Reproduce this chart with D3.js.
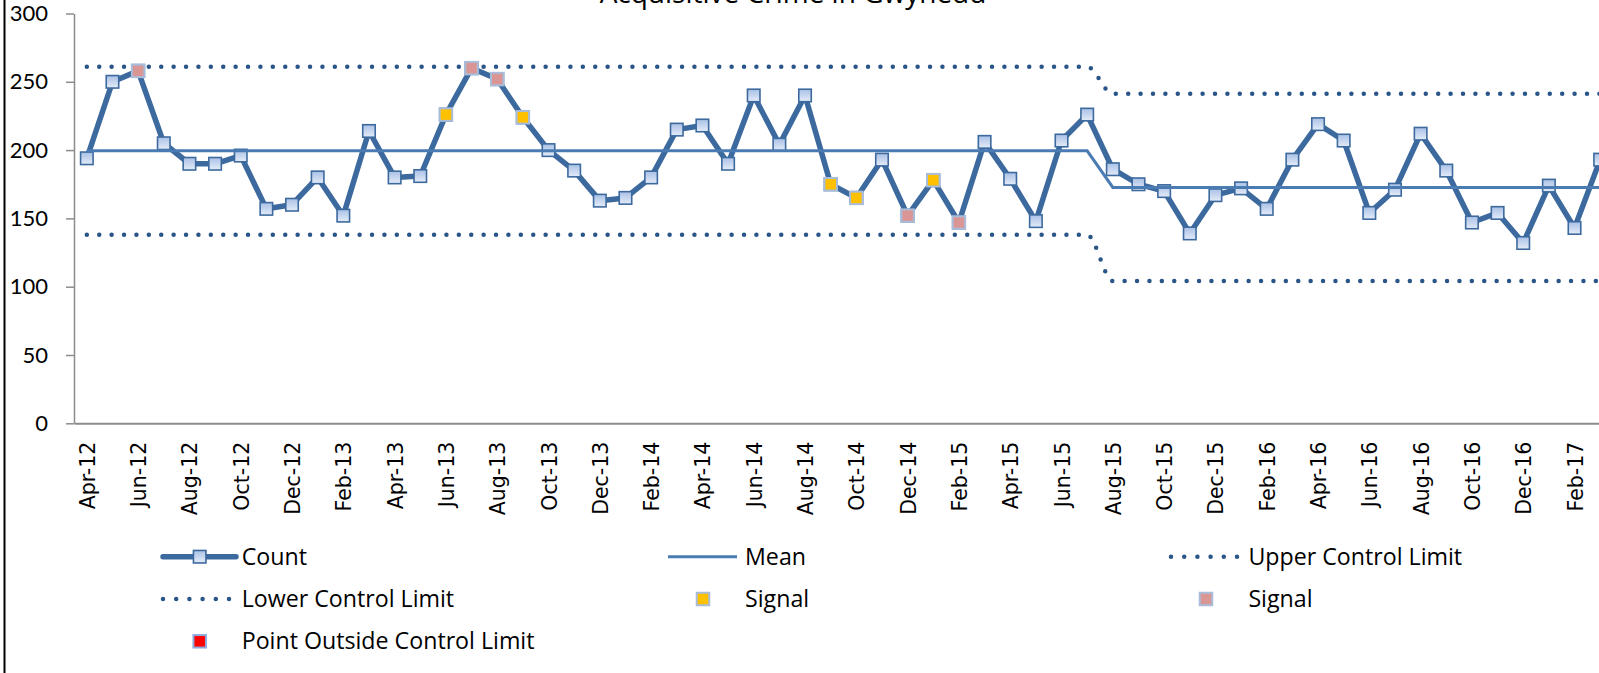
<!DOCTYPE html>
<html>
<head>
<meta charset="utf-8">
<script src="https://cdn.jsdelivr.net/npm/d3@7/dist/d3.min.js"></script>
<style>
  html, body { margin: 0; padding: 0; background: #ffffff; }
  svg { display: block; }
</style>
</head>
<body>
<script>
// ---------------- DATA ----------------
const months = [
  "Apr-12","May-12","Jun-12","Jul-12","Aug-12","Sep-12","Oct-12","Nov-12","Dec-12","Jan-13","Feb-13","Mar-13",
  "Apr-13","May-13","Jun-13","Jul-13","Aug-13","Sep-13","Oct-13","Nov-13","Dec-13","Jan-14","Feb-14","Mar-14",
  "Apr-14","May-14","Jun-14","Jul-14","Aug-14","Sep-14","Oct-14","Nov-14","Dec-14","Jan-15","Feb-15","Mar-15",
  "Apr-15","May-15","Jun-15","Jul-15","Aug-15","Sep-15","Oct-15","Nov-15","Dec-15","Jan-16","Feb-16","Mar-16",
  "Apr-16","May-16","Jun-16","Jul-16","Aug-16","Sep-16","Oct-16","Nov-16","Dec-16","Jan-17","Feb-17","Mar-17"
];

const counts = [
  194,250,258,205,190,190,196,157,160,180,152,214,
  180,181,226,260,252,224,200,185,163,165,180,215,
  218,190,240,204,240,175,165,193,152,178,147,206,
  179,148,207,226,186,175,170,139,167,172,157,193,
  219,207,154,171,212,185,147,154,132,174,143,193
];

const meanValues = [
  199.5,199.5,199.5,199.5,199.5,199.5,199.5,199.5,199.5,199.5,199.5,199.5,
  199.5,199.5,199.5,199.5,199.5,199.5,199.5,199.5,199.5,199.5,199.5,199.5,
  199.5,199.5,199.5,199.5,199.5,199.5,199.5,199.5,199.5,199.5,199.5,199.5,
  199.5,199.5,199.5,199.5,172.7,172.7,172.7,172.7,172.7,172.7,172.7,172.7,
  172.7,172.7,172.7,172.7,172.7,172.7,172.7,172.7,172.7,172.7,172.7,172.7
];

const uclValues = [
  261,261,261,261,261,261,261,261,261,261,261,261,
  261,261,261,261,261,261,261,261,261,261,261,261,
  261,261,261,261,261,261,261,261,261,261,261,261,
  261,261,261,261,241.2,241.2,241.2,241.2,241.2,241.2,241.2,241.2,
  241.2,241.2,241.2,241.2,241.2,241.2,241.2,241.2,241.2,241.2,241.2,241.2
];

const lclValues = [
  138,138,138,138,138,138,138,138,138,138,138,138,
  138,138,138,138,138,138,138,138,138,138,138,138,
  138,138,138,138,138,138,138,138,138,138,138,138,
  138,138,138,138,104.2,104.2,104.2,104.2,104.2,104.2,104.2,104.2,
  104.2,104.2,104.2,104.2,104.2,104.2,104.2,104.2,104.2,104.2,104.2,104.2
];

// Signal points (months flagged)
const signalYellowMonths = ["Jun-13","Sep-13","Sep-14","Oct-14","Jan-15"];
const signalPinkMonths   = ["Jun-12","Jul-13","Aug-13","Dec-14","Feb-15"];

const yTicks = [0, 50, 100, 150, 200, 250, 300];
const xTickLabels = [
  "Apr-12","Jun-12","Aug-12","Oct-12","Dec-12","Feb-13","Apr-13","Jun-13","Aug-13","Oct-13",
  "Dec-13","Feb-14","Apr-14","Jun-14","Aug-14","Oct-14","Dec-14","Feb-15","Apr-15","Jun-15",
  "Aug-15","Oct-15","Dec-15","Feb-16","Apr-16","Jun-16","Aug-16","Oct-16","Dec-16","Feb-17"
];

const title = "Acquisitive Crime in Gwynedd";
const legendItems = [
  {label: "Count", kind: "count"},
  {label: "Mean", kind: "mean"},
  {label: "Upper Control Limit", kind: "dots"},
  {label: "Lower Control Limit", kind: "dots"},
  {label: "Signal", kind: "yellow"},
  {label: "Signal", kind: "pink"},
  {label: "Point Outside Control Limit", kind: "red"}
];

// ---------------- STYLE ----------------
const W = 1599, H = 673;
const C_LINE = "#3D6A9E";
const C_MEAN = "#4A7BB3";
const C_DOT = "#2A5588";
const C_AXIS = "#8C8C8C";
const C_YELLOW = "#FFC000";
const C_PINK = "#D99694";
const C_RED = "#FF0000";
const C_SIG_BORDER = "#A9BDDA";
const tickFont = "Lato, 'Open Sans', sans-serif";
const labelFont = "'Open Sans', Lato, sans-serif";
const axisFont = "'DejaVu Sans', Verdana, sans-serif";

const svg = d3.select("body").append("svg")
  .attr("width", W).attr("height", H)
  .attr("viewBox", `0 0 ${W} ${H}`);

const defs = svg.append("defs");
const grad = defs.append("linearGradient")
  .attr("id", "mgrad").attr("x1", 0).attr("y1", 0).attr("x2", 0).attr("y2", 1);
grad.append("stop").attr("offset", "0%").attr("stop-color", "#A9C0E6");
grad.append("stop").attr("offset", "100%").attr("stop-color", "#E4ECF8");

// scales
const plotLeft = 74, catW = 25.65;
const x = d3.scaleBand().domain(months)
  .range([plotLeft, plotLeft + catW * months.length]).padding(0);
const cx = m => x(m) + x.bandwidth() / 2;
const y = d3.scaleLinear().domain([0, 300]).range([423.3, 13.5]);

// frame on left
svg.append("line").attr("x1", 4.5).attr("x2", 4.5).attr("y1", 0).attr("y2", H)
  .attr("stroke", "#000").attr("stroke-width", 2);

// title (cropped at the top edge, as in the reference)
svg.append("text").attr("x", 793).attr("y", 3)
  .attr("text-anchor", "middle")
  .style("font-family", labelFont).style("font-size", "28px").attr("fill", "#000")
  .text(title);

// y axis
const yAxis = svg.append("g").attr("transform", `translate(${plotLeft},0)`)
  .call(d3.axisLeft(y).tickValues(yTicks).tickSize(8).tickSizeOuter(0).tickPadding(18));
yAxis.select(".domain").attr("stroke", C_AXIS).attr("stroke-width", 1.5);
yAxis.selectAll(".tick line").attr("stroke", C_AXIS).attr("stroke-width", 1.5);
yAxis.selectAll(".tick text").style("font-family", tickFont).style("font-size", "22px").attr("fill", "#000");

// x axis
const xAxis = svg.append("g").attr("transform", `translate(0,${y(0)})`)
  .call(d3.axisBottom(x).tickValues(xTickLabels).tickSize(0).tickSizeOuter(0));
xAxis.select(".domain").attr("stroke", C_AXIS).attr("stroke-width", 2);
xAxis.selectAll(".tick text")
  .attr("transform", "rotate(-90)")
  .attr("x", -18.4).attr("y", 8).attr("dy", null)
  .style("text-anchor", "end")
  .style("font-family", axisFont).style("font-size", "20.5px").attr("fill", "#000");

// lines
const lineGen = vals => d3.line().x((d, i) => cx(months[i])).y(d => y(d))(vals);
const curveGen = vals => d3.line().curve(d3.curveMonotoneX).x((d, i) => cx(months[i])).y(d => y(d))(vals);

// count series
svg.append("path").attr("d", lineGen(counts))
  .attr("fill", "none").attr("stroke", C_LINE).attr("stroke-width", 5.5)
  .attr("stroke-linejoin", "round");
const MS = 12.5;
svg.append("g").selectAll("rect").data(counts).join("rect")
  .attr("x", (d, i) => cx(months[i]) - MS / 2).attr("y", d => y(d) - MS / 2)
  .attr("width", MS).attr("height", MS)
  .attr("fill", "url(#mgrad)").attr("stroke", C_LINE).attr("stroke-width", 1.6);

// mean
svg.append("path").attr("d", lineGen(meanValues))
  .attr("fill", "none").attr("stroke", C_MEAN).attr("stroke-width", 3);

// control limits
[uclValues, lclValues].forEach(vals => {
  svg.append("path").attr("d", curveGen(vals))
    .attr("fill", "none").attr("stroke", C_DOT).attr("stroke-width", 4.5)
    .attr("stroke-linecap", "round").attr("stroke-dasharray", "0 12.4");
});

// signals
const sigPts = (list) => list.map(m => ({m, v: counts[months.indexOf(m)]}));
[[signalYellowMonths, C_YELLOW], [signalPinkMonths, C_PINK]].forEach(([list, col]) => {
  svg.append("g").selectAll("rect").data(sigPts(list)).join("rect")
    .attr("x", d => cx(d.m) - MS / 2).attr("y", d => y(d.v) - MS / 2)
    .attr("width", MS).attr("height", MS)
    .attr("fill", col).attr("stroke", C_SIG_BORDER).attr("stroke-width", 2);
});

// legend
const colX = [163, 668, 1171];
const textX = [241.7, 745, 1248.4];
const rowY = [556.7, 599, 641.3];
const lg = svg.append("g");
legendItems.forEach((it, k) => {
  const c = k % 3, r = Math.floor(k / 3);
  const x0 = colX[c], yy = rowY[r];
  const g = lg.append("g");
  if (it.kind === "count") {
    g.append("line").attr("x1", x0).attr("x2", x0 + 73).attr("y1", yy).attr("y2", yy)
      .attr("stroke", C_LINE).attr("stroke-width", 5.5).attr("stroke-linecap", "round");
    g.append("rect").attr("x", x0 + 36.7 - MS / 2).attr("y", yy - MS / 2).attr("width", MS).attr("height", MS)
      .attr("fill", "url(#mgrad)").attr("stroke", C_LINE).attr("stroke-width", 1.6);
  } else if (it.kind === "mean") {
    g.append("line").attr("x1", x0).attr("x2", x0 + 69).attr("y1", yy).attr("y2", yy)
      .attr("stroke", C_MEAN).attr("stroke-width", 3);
  } else if (it.kind === "dots") {
    g.append("line").attr("x1", x0).attr("x2", x0 + 67).attr("y1", yy).attr("y2", yy)
      .attr("stroke", C_DOT).attr("stroke-width", 4.5).attr("stroke-linecap", "round")
      .attr("stroke-dasharray", "0 13.2");
  } else {
    const col = it.kind === "yellow" ? C_YELLOW : it.kind === "pink" ? C_PINK : C_RED;
    const mx = c === 0 ? x0 + 36.7 : x0 + 35;
    g.append("rect").attr("x", mx - MS / 2).attr("y", yy - MS / 2).attr("width", MS).attr("height", MS)
      .attr("fill", col).attr("stroke", it.kind === "red" ? "#8EA9DB" : C_SIG_BORDER).attr("stroke-width", 2);
  }
  g.append("text").attr("x", textX[c]).attr("y", yy + 8)
    .style("font-family", labelFont).style("font-size", "23.2px").attr("fill", "#000")
    .text(it.label);
});
</script>
</body>
</html>
